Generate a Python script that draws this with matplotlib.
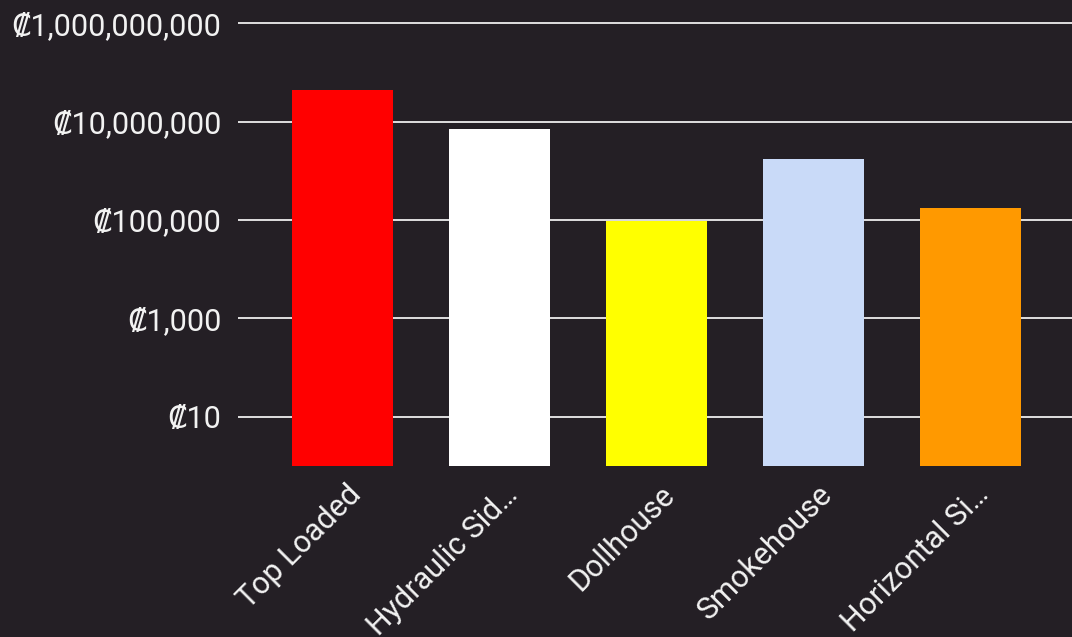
import matplotlib.pyplot as plt
from matplotlib.ticker import FixedLocator, FuncFormatter
from matplotlib.transforms import ScaledTranslation

# data (log scale)
categories = ['Top Loaded', 'Hydraulic Sid…', 'Dollhouse', 'Smokehouse', 'Horizontal Si…']
values = [4.3e7, 6.9e6, 9.5e4, 1.7e6, 1.75e5]
colors = ['#ff0000', '#ffffff', '#ffff00', '#c9daf8', '#ff9900']
yticks = [10, 1e3, 1e5, 1e7, 1e9]

bg = '#241f25'
plt.rcParams['font.family'] = ['Roboto', 'DejaVu Sans']

fig = plt.figure(figsize=(10.72, 6.37), dpi=100, facecolor=bg)
ax = fig.add_axes([238 / 1072, 171 / 637, 1 - 238 / 1072, 466 / 637])
ax.set_facecolor(bg)

x = range(len(categories))
ax.bar(x, values, width=0.643, color=colors, zorder=3)

ax.set_yscale('log')
ax.set_ylim(1, 10 ** 9.47)
ax.set_xlim(-0.666, 4.646)
ax.yaxis.set_major_locator(FixedLocator(yticks))
ax.yaxis.set_minor_locator(FixedLocator([]))
ax.yaxis.set_major_formatter(FuncFormatter(lambda v, p: '₡{:,.0f}'.format(v)))
ax.grid(axis='y', color='white', linewidth=1.2, zorder=1)

for s in ax.spines.values():
    s.set_visible(False)
ax.tick_params(axis='y', length=0, pad=12, labelsize=22, labelcolor='#f2f2f2')
ax.tick_params(axis='x', length=0, pad=10, labelsize=22, labelcolor='#f2f2f2')
ax.set_xticks(list(x))
ax.set_xticklabels(categories, rotation=45, ha='right', va='center', rotation_mode='anchor')
# nudge labels right/down to sit like the original
shift = ScaledTranslation(0.14, -0.10, fig.dpi_scale_trans)
for lbl in ax.get_xticklabels():
    lbl.set_transform(lbl.get_transform() + shift)

fig.savefig('out.png', dpi=100, facecolor=bg)
